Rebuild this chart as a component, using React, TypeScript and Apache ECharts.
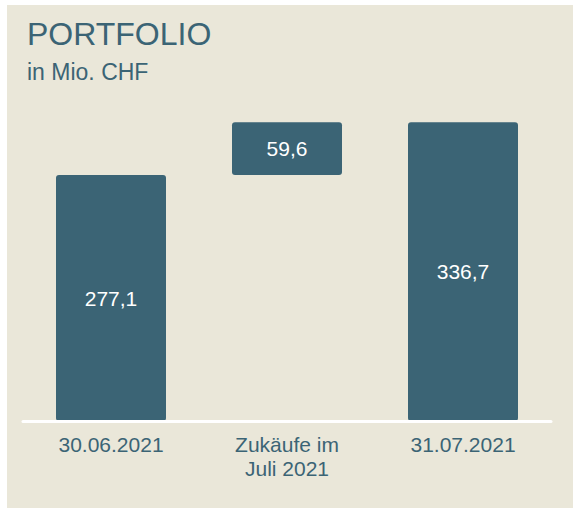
import React, { useEffect, useRef } from "react";
import * as echarts from "echarts";

const categories = ["30.06.2021", "Zukäufe im\nJuli 2021", "31.07.2021"];
const baseValues = [0, 277.1, 0];
const barValues = [277.1, 59.6, 336.7];
const titleText = "PORTFOLIO";
const subtitleText = "in Mio. CHF";

const TEAL = "#3B6475";
const BG = "#EAE7D9";
const FONT = "'Liberation Sans', Arial, sans-serif";

export default function App() {
  const ref = useRef<HTMLDivElement>(null);
  useEffect(() => {
    if (!ref.current) return;
    const chart = echarts.init(ref.current, null, { renderer: "svg" });
    chart.setOption({
      animation: false,
      backgroundColor: BG,
      title: [
        {
          text: titleText,
          left: 20,
          top: 13,
          padding: 0,
          textStyle: { color: TEAL, fontSize: 32, fontWeight: "normal", fontFamily: FONT, lineHeight: 32 },
        },
        {
          text: subtitleText,
          left: 20,
          top: 55,
          padding: 0,
          textStyle: { color: TEAL, fontSize: 23, fontWeight: "normal", fontFamily: FONT, lineHeight: 23 },
        },
      ],
      grid: { left: 16, right: 22, top: 61, bottom: 87, containLabel: false },
      xAxis: {
        type: "category",
        data: categories,
        z: 5,
        axisLine: { show: true, lineStyle: { color: "#FFFFFF", width: 3 } },
        axisTick: { show: false },
        axisLabel: {
          color: TEAL,
          fontSize: 21,
          fontFamily: FONT,
          lineHeight: 24,
          margin: 11,
          interval: 0,
        },
      },
      yAxis: {
        type: "value",
        min: 0,
        max: 400,
        show: false,
        splitLine: { show: false },
      },
      series: [
        {
          type: "bar",
          stack: "w",
          data: baseValues,
          barWidth: 110,
          itemStyle: { color: "transparent" },
          emphasis: { disabled: true },
          silent: true,
        },
        {
          type: "bar",
          stack: "w",
          data: barValues,
          barWidth: 110,
          itemStyle: { color: TEAL, borderRadius: 3 },
          label: {
            show: true,
            position: "inside",
            color: "#FFFFFF",
            fontSize: 21,
            fontFamily: FONT,
            formatter: (p: any) => String(p.value).replace(".", ","),
          },
        },
      ],
    });
    return () => chart.dispose();
  }, []);
  return (
    <div
      ref={ref}
      style={{ position: "absolute", left: 7, top: 5, width: 566, height: 503 }}
    />
  );
}
